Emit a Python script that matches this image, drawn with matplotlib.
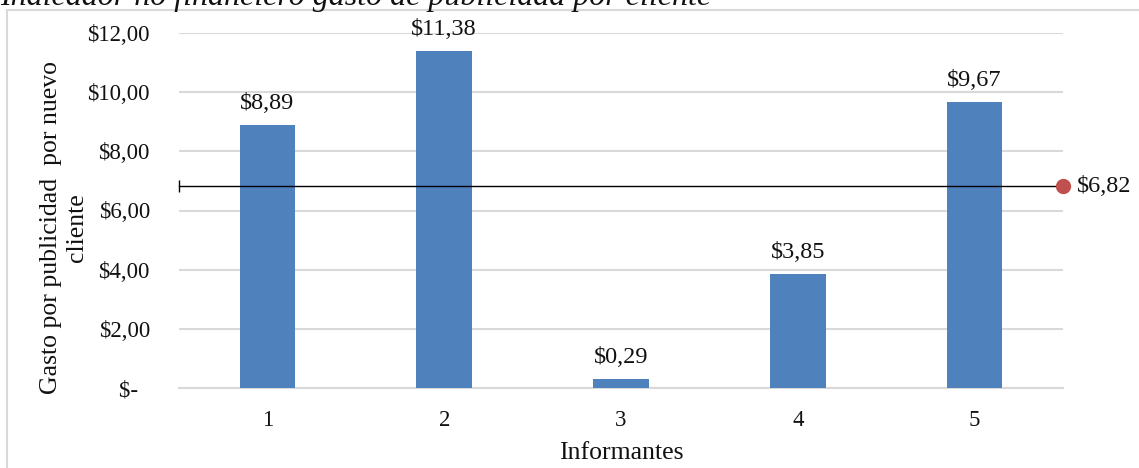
import matplotlib
matplotlib.use("Agg")
import matplotlib.pyplot as plt
from matplotlib.patches import Rectangle

# Data
informantes = [1, 2, 3, 4, 5]
gasto = [8.89, 11.38, 0.29, 3.85, 9.67]
promedio = 6.82
y_ticks = [0, 2, 4, 6, 8, 10, 12]
y_tick_labels = ["$-  ", "$2,00", "$4,00", "$6,00", "$8,00", "$10,00", "$12,00"]

def money(v):
    return "$" + f"{v:.2f}".replace(".", ",")

plt.rcParams["font.family"] = ["Liberation Serif", "DejaVu Serif"]

W, H = 1139, 468
fig = plt.figure(figsize=(W / 100, H / 100), dpi=100)
ax = fig.add_axes([179 / W, 1 - 388 / H, (1063 - 179) / W, (388 - 33) / H])

bar_color = "#4F81BD"
grid_color = "#D9D9D9"
text_color = "#111111"

ax.bar(informantes, gasto, width=0.315, color=bar_color, zorder=3)
for x, v in zip(informantes, gasto):
    ax.annotate(money(v), (x, v), xytext=(0, 8), textcoords="offset points",
                ha="center", va="bottom", fontsize=17.5, color=text_color)

ax.set_xlim(0.5, 5.5)
ax.set_ylim(0, 12)
ax.set_yticks(y_ticks)
ax.set_yticklabels(y_tick_labels)
ax.set_xticks(informantes)
ax.set_xticklabels([str(i) for i in informantes])
ax.tick_params(axis="both", length=0, labelsize=16.5, colors=text_color)
ax.tick_params(axis="y", pad=21)
ax.tick_params(axis="x", pad=16)

ax.yaxis.grid(True, color=grid_color, linewidth=1.5, zorder=0)
ax.set_axisbelow(True)
for s in ["top", "right", "left"]:
    ax.spines[s].set_visible(False)
ax.spines["bottom"].set_color(grid_color)
ax.spines["bottom"].set_linewidth(1.5)

# Average line
ax.plot([0.5, 5.5], [promedio, promedio], color="black", linewidth=1.0,
        zorder=4, clip_on=False)
ax.plot([0.5], [promedio], marker="|", markersize=9, color="black",
        markeredgewidth=1.0, zorder=4, clip_on=False)
ax.plot([5.5], [promedio], marker="o", markersize=10, color="#C0504D",
        zorder=5, clip_on=False)
ax.annotate(money(promedio), (5.5, promedio), xytext=(10, 0),
            textcoords="offset points", ha="left", va="center",
            fontsize=17.5, color=text_color, annotation_clip=False)

ax.set_xlabel("Informantes", fontsize=18.5, labelpad=8, color=text_color)
fig.text(64 / W, 1 - 228 / H, "Gasto por publicidad  por nuevo\ncliente",
         rotation=90, ha="center", va="center", fontsize=18.5,
         color=text_color, linespacing=1.25)

# Outer chart frame
fig.patches.append(Rectangle((7 / W, -0.5), 2.0, 1.5 - 10 / H,
                             transform=fig.transFigure, fill=False,
                             edgecolor=grid_color, linewidth=1.5))

fig.text(0, 1 - 5 / H, "Indicador no financiero gasto de publicidad por cliente",
         ha="left", va="baseline", fontsize=23, style="italic", color=text_color)

fig.savefig("out.png", dpi=100)
